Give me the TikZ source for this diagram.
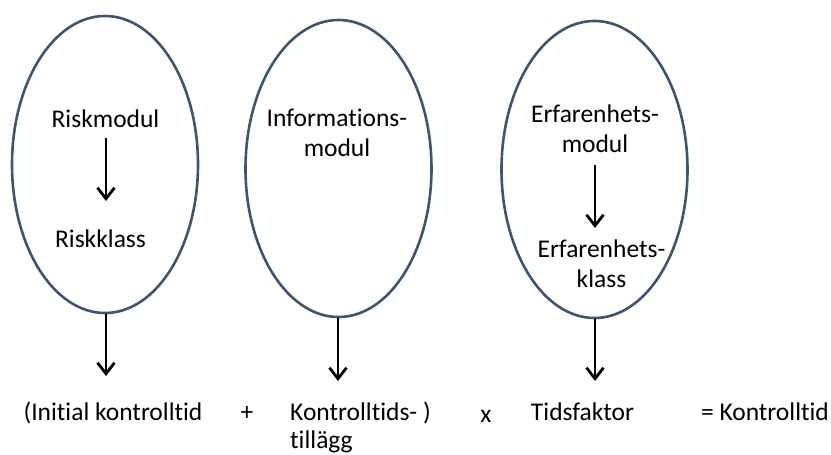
\documentclass[tikz,border=0pt]{standalone}
\usepackage{fontspec}
\setmainfont{Carlito}[RawFeature={-liga;-clig}]
\usetikzlibrary{arrows.meta,shapes.geometric}
\definecolor{outl}{RGB}{62,84,112}
\begin{document}
\begin{tikzpicture}[x=1pt,y=-1pt,
  oval/.style={draw=outl,line width=2.6pt,ellipse,minimum width=186pt,minimum height=297pt,inner sep=0pt},
  arr/.style={line width=2.8pt,-{Straight Barb[length=11pt,width=17pt,line width=2.8pt]}},
  lbl/.style={font=\fontsize{25.5}{30}\selectfont,inner sep=0pt,anchor=base,align=center},
  lbll/.style={font=\fontsize{25.5}{28}\selectfont,inner sep=0pt,anchor=base west,align=left}]
\useasboundingbox (0,0) rectangle (831,455);
% ellipses
\node[oval] (e1) at (105,164.5) {};
\node[oval] (e2) at (338.5,168.5) {};
\node[oval] (e3) at (594.5,169.5) {};
% inner texts (multi-line nodes: base is the last line)
\node[lbl] (rm) at (105.5,127) {Riskmodul};
\node[lbl] (rk) at (100.5,247) {Riskklass};
\node[lbl] (inf) at (337,156) {Informations-\\modul};
\node[lbl] (erf) at (595,152) {Erfarenhets-\\modul};
\node[lbl] (erk) at (601.5,287) {Erfarenhets-\\klass};
% bottom row
\node[lbl] (t1) at (113,420) {(Initial kontrolltid};
\node[lbl] (plus) at (247,420) {+};
\node[lbll] (t2) at (290,448) {Kontrolltids- )\\tillägg};
\node[lbl] (times) at (486,422) {x};
\node[lbl] (tf) at (582.5,420) {Tidsfaktor};
\node[lbl] (eq) at (765,420) {= Kontrolltid};
% arrow endpoints
\coordinate (a1s) at (106,138);
\coordinate (a1e) at (106,201);
\coordinate (a3s) at (595,165);
\coordinate (a3e) at (595,228);
\coordinate (b1) at (106,376);
\coordinate (b2) at (338,381);
\coordinate (b3) at (595,381);
% arrows
\draw[arr] (a1s) -- (a1e);
\draw[arr] (a3s) -- (a3e);
\draw[arr] (e1.south -| b1) -- (b1);
\draw[arr] (e2.south -| b2) -- (b2);
\draw[arr] (e3.south -| b3) -- (b3);
\end{tikzpicture}
\end{document}
